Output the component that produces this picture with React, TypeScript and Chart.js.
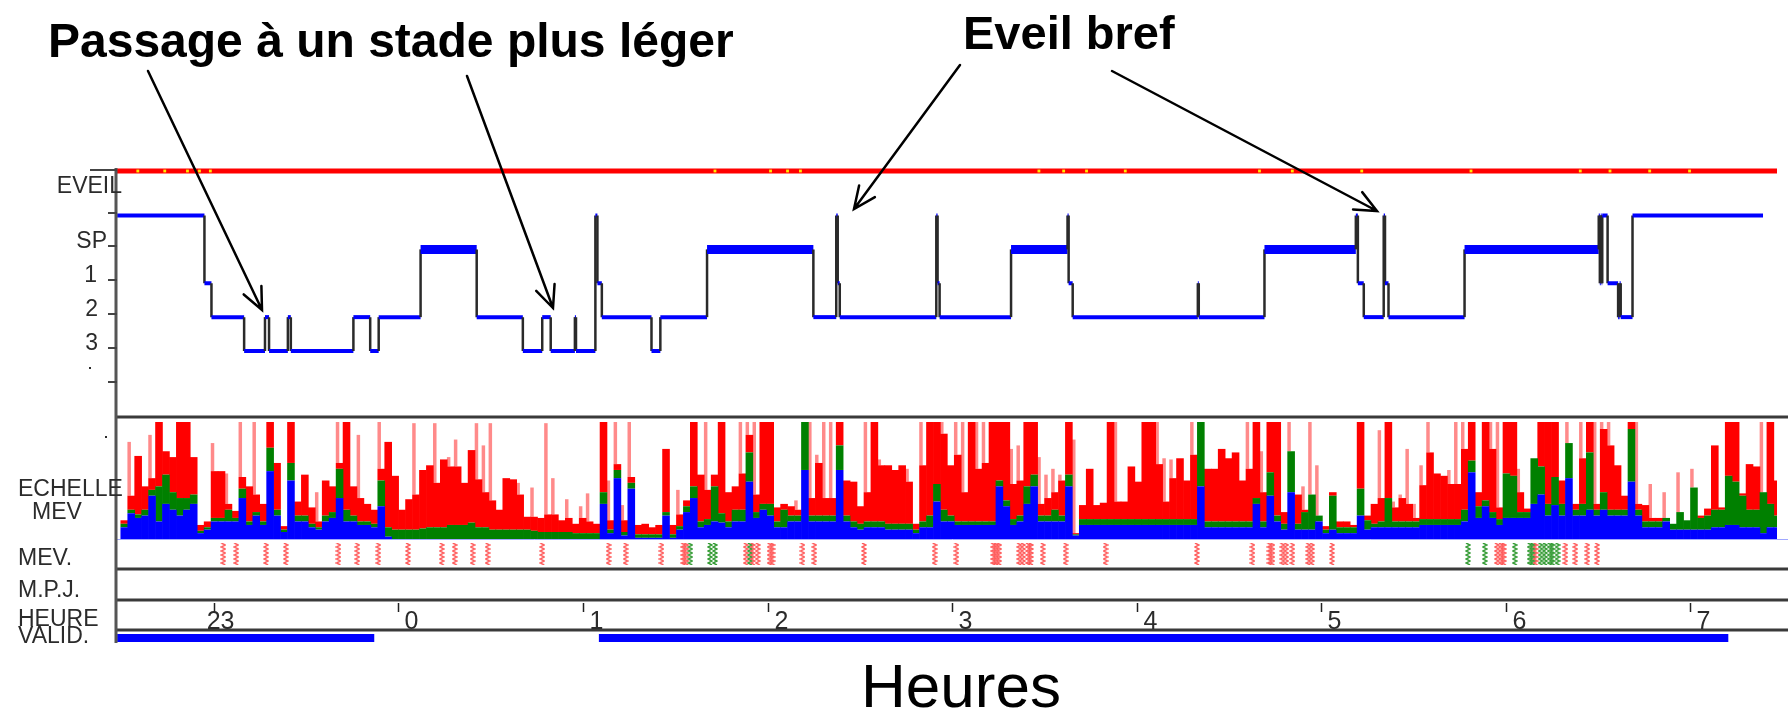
import React, { useEffect, useRef } from 'react';
import { Chart, registerables } from 'chart.js';

Chart.register(...registerables);

const W = 1788;
const H = 715;
const AREA = { left: 117, top: 150, right: 1788, bottom: 650 };
const HOUR23_PX = 214.5;
const PX_PER_HOUR = 185.8;
const X_MIN = 23 + (AREA.left - HOUR23_PX) / PX_PER_HOUR;
const X_MAX = 23 + (AREA.right - HOUR23_PX) / PX_PER_HOUR;

// ---------- Hypnogramme (heures d'horloge, >24 = après minuit) ----------
const hypDebuts = [
  22.476, 22.949, 22.987, 23.164, 23.277, 23.299, 23.401, 23.417, 23.756, 23.847,
  23.893, 24.12, 24.424, 24.674, 24.779, 24.825, 24.956, 24.962, 25.067, 25.078,
  25.102, 25.371, 25.419, 25.672, 26.248, 26.372, 26.38, 26.391, 26.914, 26.921,
  26.932, 27.319, 27.625, 27.631, 27.653, 28.331, 28.336, 28.692, 29.187, 29.198,
  29.23, 29.338, 29.345, 29.364, 29.776, 30.503, 30.509, 30.514, 30.519, 30.522,
  30.551, 30.608, 30.616, 30.622, 30.686,
];
const hypStades = [
  'W', '1', '2', '3', '2', '3', '2', '3', '2', '3',
  '2', 'SP', '2', '3', '2', '3', '2', '3', 'W', '1',
  '2', '3', '2', 'SP', '2', 'W', '1', '2', 'W', '1',
  '2', 'SP', 'W', '1', '2', '1', '2', 'SP', 'W', '1',
  '2', 'W', '1', '2', 'SP', 'W', '1', 'W', '1', 'W',
  '1', '2', '1', '2', 'W',
];
const hypFin = 31.393;
const hypNiveau: Record<string, number> = { W: 5, SP: 4, '1': 3, '2': 2, '3': 1 };

// ---------- Echelle MEV (barres empilées) ----------
const mevBleu = [
  10, 22, 18, 20, 37, 15, 30, 25, 20, 25,
  30, 5, 8, 15, 15, 15, 15, 35, 12, 20,
  12, 58, 20, 6, 50, 15, 15, 10, 8, 15,
  18, 35, 15, 15, 12, 12, 10, 28, 2, 0,
  0, 0, 0, 0, 0, 0, 0, 0, 0, 0,
  0, 0, 0, 0, 0, 0, 0, 0, 0, 0,
  0, 0, 0, 0, 0, 0, 0, 0, 0, 30,
  5, 52, 3, 43, 1, 1, 1, 1, 20, 1,
  8, 23, 35, 10, 12, 15, 14, 10, 15, 15,
  49, 18, 25, 20, 10, 10, 15, 15, 59, 15,
  15, 15, 15, 59, 15, 10, 8, 10, 10, 10,
  8, 8, 8, 8, 5, 10, 10, 32, 15, 15,
  12, 12, 12, 12, 12, 12, 45, 28, 12, 15,
  30, 45, 15, 15, 15, 15, 45, 3, 12, 12,
  12, 12, 12, 12, 12, 12, 12, 12, 12, 12,
  12, 12, 12, 12, 12, 45, 10, 10, 10, 10,
  10, 10, 10, 30, 10, 37, 15, 8, 40, 8,
  8, 8, 15, 5, 8, 5, 5, 5, 20, 8,
  10, 10, 10, 10, 10, 10, 10, 12, 12, 12,
  12, 12, 12, 15, 57, 18, 28, 18, 12, 18,
  18, 18, 18, 30, 38, 20, 29, 20, 52, 20,
  20, 25, 20, 25, 20, 20, 20, 49, 20, 10,
  10, 10, 15, 8, 8, 8, 8, 8, 8, 10,
  10, 12, 12, 10, 10, 10, 5, 10, 10,
];
const mevVert = [
  3, 3, 3, 5, 5, 30, 25, 15, 15, 10,
  8, 2, 2, 3, 3, 10, 3, 8, 3, 3,
  3, 20, 5, 2, 15, 5, 5, 3, 2, 5,
  5, 25, 10, 5, 3, 3, 3, 22, 8, 8,
  8, 8, 8, 9, 10, 10, 10, 12, 12, 12,
  14, 10, 10, 8, 8, 8, 8, 8, 8, 7,
  6, 6, 6, 6, 6, 5, 5, 5, 5, 10,
  3, 7, 3, 5, 3, 3, 3, 3, 3, 3,
  3, 5, 10, 5, 5, 30, 8, 5, 10, 10,
  25, 5, 5, 10, 5, 15, 5, 5, 41, 5,
  5, 5, 5, 21, 5, 5, 5, 5, 5, 5,
  5, 5, 5, 5, 3, 5, 10, 15, 10, 5,
  3, 3, 3, 3, 3, 3, 5, 5, 5, 5,
  15, 10, 5, 5, 10, 5, 10, 1, 5, 5,
  5, 5, 5, 5, 5, 5, 5, 5, 5, 5,
  5, 5, 5, 5, 5, 55, 5, 5, 5, 5,
  5, 5, 5, 5, 5, 20, 5, 5, 35, 5,
  15, 30, 5, 3, 29, 5, 5, 5, 23, 8,
  3, 5, 25, 5, 5, 5, 5, 5, 5, 5,
  5, 5, 5, 10, 10, 10, 5, 5, 5, 38,
  36, 5, 5, 39, 24, 10, 24, 10, 30, 5,
  10, 49, 5, 15, 5, 5, 5, 45, 5, 5,
  5, 5, 3, 5, 15, 8, 36, 10, 12, 15,
  15, 42, 37, 27, 15, 15, 35, 20, 10,
];
const mevRouge = [
  3, 12, 50, 20, 10, 55, 20, 30, 65, 65,
  32, 5, 5, 40, 40, 5, 6, 10, 30, 15,
  15, 22, 40, 3, 35, 12, 35, 14, 5, 30,
  22, 5, 75, 25, 20, 15, 12, 10, 73, 46,
  17, 26, 30, 50, 53, 38, 58, 50, 50, 36,
  62, 41, 30, 25, 17, 44, 43, 30, 11, 12,
  12, 15, 15, 10, 12, 8, 13, 10, 8, 60,
  8, 5, 10, 5, 8, 9, 6, 8, 54, 8,
  10, 5, 55, 40, 25, 10, 78, 25, 20, 31,
  15, 15, 70, 70, 12, 5, 8, 5, 0, 15,
  45, 15, 15, 20, 30, 34, 15, 25, 85, 48,
  50, 46, 50, 36, 5, 48, 80, 53, 65, 43,
  57, 25, 85, 45, 50, 85, 50, 67, 30, 30,
  55, 45, 10, 15, 15, 30, 45, 1, 12, 43,
  12, 14, 83, 15, 15, 45, 32, 83, 83, 47,
  15, 35, 52, 33, 55, 0, 45, 45, 62, 54,
  59, 35, 45, 65, 25, 43, 80, 10, 0, 25,
  2, 0, 0, 3, 3, 5, 5, 2, 57, 4,
  17, 20, 65, 12, 20, 15, 3, 29, 57, 39,
  37, 30, 30, 52, 33, 12, 67, 54, 10, 44,
  46, 17, 3, 0, 38, 70, 47, 20, 0, 5,
  39, 26, 5, 54, 55, 38, 12, 6, 5, 14,
  3, 3, 0, 0, 0, 0, 0, 2, 6, 55,
  2, 46, 51, 2, 39, 37, 0, 70, 30,
];
const mevPale = [
  0, 46, 0, 0, 37, 0, 0, 0, 0, 0,
  0, 0, 0, 24, 0, 26, 0, 47, 0, 62,
  0, 0, 0, 0, 0, 0, 0, 0, 25, 0,
  0, 35, 0, 0, 54, 0, 0, 40, 0, 0,
  0, 0, 61, 0, 0, 51, 0, 8, 23, 0,
  0, 48, 40, 66, 0, 0, 0, 10, 0, 25,
  0, 78, 31, 0, 16, 0, 10, 24, 0, 0,
  34, 36, 13, 47, 0, 0, 0, 0, 0, 0,
  21, 0, 0, 0, 58, 0, 0, 0, 0, 44,
  11, 62, 0, 0, 0, 0, 0, 8, 0, 65,
  7, 65, 65, 0, 0, 0, 0, 60, 0, 5,
  0, 0, 0, 11, 0, 37, 0, 0, 10, 0,
  28, 60, 0, 40, 35, 0, 0, 0, 30, 30,
  0, 0, 40, 20, 20, 5, 0, 80, 0, 0,
  0, 0, 0, 68, 0, 0, 0, 0, 0, 36,
  37, 16, 0, 0, 28, 0, 0, 0, 0, 0,
  0, 0, 40, 0, 35, 0, 0, 0, 25, 0,
  20, 62, 43, 0, 0, 0, 0, 0, 0, 0,
  0, 58, 0, 5, 3, 47, 12, 17, 26, 0,
  0, 12, 53, 23, 0, 0, 0, 23, 73, 0,
  0, 20, 0, 0, 0, 0, 0, 0, 18, 0,
  31, 0, 70, 6, 20, 0, 0, 0, 70, 0,
  29, 0, 22, 0, 34, 0, 16, 0, 0, 0,
  0, 0, 0, 0, 0, 0, 60, 0, 0,
];
const mevLabels = mevBleu.map((_, i) => String(i));

// ---------- Lignes MEV. (marques), éveil, validation ----------
const mevMarquesRouges = [
  23.051, 23.121, 23.283, 23.39, 23.675, 23.777, 23.891, 24.052, 24.235, 24.305,
  24.402, 24.483, 24.779, 25.139, 25.231, 25.425, 25.543, 25.559, 25.882, 25.92,
  25.947, 26.011, 26.027, 26.189, 26.253, 26.522, 26.905, 27.023, 27.222, 27.238,
  27.255, 27.363, 27.384, 27.411, 27.427, 27.491, 27.615, 27.831, 28.326, 28.627,
  28.719, 28.735, 28.789, 28.81, 28.843, 28.929, 28.95, 29.058, 29.951, 29.973,
  29.989, 30.161, 30.322, 30.376, 30.441, 30.494,
];
const mevMarquesVertes = [
  25.581, 25.688, 25.715, 25.904, 29.795, 29.886, 30.048, 30.129, 30.145, 30.188,
  30.212, 30.237, 30.253, 30.28,
];
const eveilMarques = [
  22.588, 22.734, 22.857, 22.922, 22.981, 25.715, 26.016, 26.108, 26.178, 27.47,
  27.604, 27.728, 27.938, 28.665, 28.843, 29.219, 29.811, 30.403, 30.564, 30.779, 30.995,
];
const validDebuts = [22.476, 25.086];
const validFins = [23.869, 31.205];

const heureValeurs = [23, 24, 25, 26, 27, 28, 29, 30, 31];
const heureLabels = ['23', '0', '1', '2', '3', '4', '5', '6', '7'];

// pixel rows for the strip tracks
const ROW = { eveil: 171, marques: 554, valid: 638 };
const FONT = '"Liberation Sans", Arial, sans-serif';
const SLOT = (AREA.right - AREA.left) / mevBleu.length;

function yRange(v1: number, p1: number, v2: number, p2: number) {
  const k = (v2 - v1) / (p2 - p1);
  return { min: v1 + (AREA.bottom - p1) * k, max: v1 + (AREA.top - p1) * k };
}

function makeZigzag(color: string) {
  const c = document.createElement('canvas');
  c.width = 6;
  c.height = 22;
  const g = c.getContext('2d')!;
  g.strokeStyle = color;
  g.lineWidth = 1.4;
  g.beginPath();
  for (let i = 0; i <= 11; i++) {
    const xx = i % 2 ? 5 : 1;
    const yy = i * 2;
    if (i === 0) g.moveTo(xx, yy);
    else g.lineTo(xx, yy);
  }
  g.stroke();
  return c;
}

function arrow(ctx: CanvasRenderingContext2D, x1: number, y1: number, x2: number, y2: number) {
  const a = Math.atan2(y2 - y1, x2 - x1);
  const L = 24;
  const s = 0.42;
  ctx.beginPath();
  ctx.moveTo(x1, y1);
  ctx.lineTo(x2, y2);
  ctx.moveTo(x2 - L * Math.cos(a - s), y2 - L * Math.sin(a - s));
  ctx.lineTo(x2, y2);
  ctx.lineTo(x2 - L * Math.cos(a + s), y2 - L * Math.sin(a + s));
  ctx.stroke();
}

const decor = {
  id: 'decor',
  afterDatasetsDraw(chart: any) {
    const ctx: CanvasRenderingContext2D = chart.ctx;
    const xs = chart.scales.x;
    const yh = chart.scales.yHyp;
    ctx.save();
    // panel separators
    ctx.strokeStyle = '#3a3a3a';
    ctx.lineWidth = 3;
    for (const y of [417, 569, 600, 630]) {
      ctx.beginPath();
      ctx.moveTo(AREA.left, y);
      ctx.lineTo(W, y);
      ctx.stroke();
    }
    ctx.strokeStyle = '#a0a8ff';
    ctx.lineWidth = 1;
    ctx.beginPath();
    ctx.moveTo(AREA.left, 539.5);
    ctx.lineTo(W, 539.5);
    ctx.stroke();
    // left axis
    ctx.strokeStyle = '#555';
    ctx.lineWidth = 3;
    ctx.beginPath();
    ctx.moveTo(116, 168);
    ctx.lineTo(116, 643);
    ctx.stroke();
    // hypnogram ticks
    ctx.strokeStyle = '#444';
    ctx.lineWidth = 2;
    ctx.beginPath();
    ctx.moveTo(90, 170);
    ctx.lineTo(117, 170);
    for (const lv of [5, 4, 3, 2, 1, 0]) {
      const y = Math.round(yh.getPixelForValue(lv)) - 3;
      ctx.moveTo(108, y);
      ctx.lineTo(117, y);
    }
    ctx.stroke();
    // left labels
    ctx.fillStyle = '#2b2b2b';
    ctx.font = `23px ${FONT}`;
    ctx.textBaseline = 'alphabetic';
    ctx.textAlign = 'right';
    ctx.fillText('EVEIL', 122, 193);
    const hypLab: [string, number, number][] = [['SP', 4, 107], ['1', 3, 97], ['2', 2, 98], ['3', 1, 98]];
    for (const [t, lv, r] of hypLab) ctx.fillText(t, r, yh.getPixelForValue(lv) - 1);
    ctx.fillRect(89, 367, 2, 2);
    ctx.fillRect(105, 436, 2, 2);
    ctx.textAlign = 'left';
    ctx.fillText('ECHELLE', 18, 496);
    ctx.fillText('MEV', 32, 519);
    ctx.fillText('MEV.', 18, 565);
    ctx.fillText('M.P.J.', 18, 597);
    ctx.fillText('HEURE', 18, 626);
    ctx.fillText('VALID.', 18, 643);
    // hour ticks
    ctx.font = `25px ${FONT}`;
    ctx.textAlign = 'right';
    ctx.strokeStyle = '#222';
    ctx.lineWidth = 1.5;
    heureValeurs.forEach((h, i) => {
      const px = Math.round(xs.getPixelForValue(h)) + 0.5;
      ctx.beginPath();
      ctx.moveTo(px, 603);
      ctx.lineTo(px, 612);
      ctx.stroke();
      ctx.fillText(heureLabels[i], px + 20, 629);
    });
    // annotations
    ctx.fillStyle = '#000';
    ctx.textAlign = 'left';
    ctx.font = `bold 48px ${FONT}`;
    ctx.fillText('Passage à un stade plus léger', 48, 57);
    ctx.font = `bold 47px ${FONT}`;
    ctx.fillText('Eveil bref', 963, 49);
    ctx.font = `62px ${FONT}`;
    ctx.textAlign = 'center';
    ctx.fillText('Heures', 961, 707);
    ctx.strokeStyle = '#000';
    ctx.lineWidth = 2.5;
    ctx.lineCap = 'round';
    arrow(ctx, 148, 71, 262, 310);
    arrow(ctx, 467, 76, 553, 308);
    arrow(ctx, 960, 65, 854, 209);
    arrow(ctx, 1112, 71, 1377, 211);
    ctx.restore();
  },
};

export default function App() {
  const ref = useRef<HTMLCanvasElement>(null);

  useEffect(() => {
    const canvas = ref.current!;
    const hypPoints: { x: number; y: number }[] = [];
    hypDebuts.forEach((t, i) => {
      const fin = i + 1 < hypDebuts.length ? hypDebuts[i + 1] : hypFin;
      const lv = hypNiveau[hypStades[i]];
      hypPoints.push({ x: t, y: lv }, { x: fin, y: lv });
    });
    const validPoints: { x: number; y: number | null }[] = [];
    validDebuts.forEach((d, i) => {
      if (i > 0) validPoints.push({ x: (validFins[i - 1] + d) / 2, y: null });
      validPoints.push({ x: d, y: ROW.valid }, { x: validFins[i], y: ROW.valid });
    });
    const zzRouge = makeZigzag('rgba(255,50,50,0.8)');
    const zzVert = makeZigzag('rgba(0,130,0,0.8)');
    const hypR = yRange(5, 215.5, 1, 351);
    const mevR = yRange(0, 539, 100, 422);
    const isVert = (c: any) => c.p0.parsed.x === c.p1.parsed.x;
    const barBase = {
      xAxisID: 'xBar', yAxisID: 'yMev', stack: 'mev', barThickness: SLOT + 0.6,
      borderWidth: 0, inflateAmount: 0, order: 5,
    };

    const chart = new Chart(canvas, {
      type: 'bar',
      data: {
        labels: mevLabels,
        datasets: [
          {
            type: 'line', label: 'Hypnogramme', xAxisID: 'x', yAxisID: 'yHyp',
            data: hypPoints as any, pointRadius: 0, borderColor: '#0000ff', borderWidth: 4,
            tension: 0, fill: false, order: 0,
            segment: {
              borderColor: (c: any) => (isVert(c) ? '#2a2a2a' : '#0000ff'),
              borderWidth: (c: any) => (isVert(c) ? 2.5 : c.p0.parsed.y === hypNiveau.SP ? 9 : 4),
            },
          } as any,
          {
            type: 'line', label: 'Eveil', xAxisID: 'x', yAxisID: 'yRow',
            data: [{ x: X_MIN, y: ROW.eveil }, { x: X_MAX, y: ROW.eveil }] as any,
            pointRadius: 0, borderColor: '#ff0000', borderWidth: 5, order: 2,
          } as any,
          {
            type: 'scatter', label: 'Eveil marques', xAxisID: 'x', yAxisID: 'yRow',
            data: eveilMarques.map((x) => ({ x, y: ROW.eveil })) as any,
            pointStyle: 'rect', pointRadius: 2, backgroundColor: '#ffee00', borderWidth: 0, order: 1,
          } as any,
          {
            type: 'scatter', label: 'MEV rouges', xAxisID: 'x', yAxisID: 'yRow',
            data: mevMarquesRouges.map((x) => ({ x, y: ROW.marques })) as any,
            pointStyle: zzRouge as any, pointRadius: 10, order: 1,
          } as any,
          {
            type: 'scatter', label: 'MEV verts', xAxisID: 'x', yAxisID: 'yRow',
            data: mevMarquesVertes.map((x) => ({ x, y: ROW.marques })) as any,
            pointStyle: zzVert as any, pointRadius: 10, order: 1,
          } as any,
          {
            type: 'line', label: 'Valid', xAxisID: 'x', yAxisID: 'yRow',
            data: validPoints as any, pointRadius: 0, borderColor: '#0000ff', borderWidth: 8,
            borderCapStyle: 'butt', spanGaps: false, order: 2,
          } as any,
          { ...barBase, label: 'Bleu', data: mevBleu, backgroundColor: '#0000ff' } as any,
          { ...barBase, label: 'Vert', data: mevVert, backgroundColor: '#008000' } as any,
          { ...barBase, label: 'Rouge', data: mevRouge, backgroundColor: '#ff0000' } as any,
          { ...barBase, label: 'Pale', data: mevPale, backgroundColor: '#ff8a8a', barThickness: SLOT * 0.5 } as any,
        ],
      },
      options: {
        responsive: false,
        animation: false,
        devicePixelRatio: 1,
        events: [],
        layout: {
          padding: { left: AREA.left, top: AREA.top, right: W - AREA.right, bottom: H - AREA.bottom },
        },
        plugins: { legend: { display: false }, tooltip: { enabled: false }, title: { display: false } },
        scales: {
          x: { type: 'linear', min: X_MIN, max: X_MAX, offset: false, bounds: 'data', display: false },
          xBar: { type: 'category', display: false, stacked: true, offset: true },
          y: { display: false },
          yHyp: { type: 'linear', min: hypR.min, max: hypR.max, offset: false, display: false },
          yMev: { type: 'linear', min: mevR.min, max: mevR.max, offset: false, display: false, stacked: true },
          yRow: { type: 'linear', min: AREA.top, max: AREA.bottom, reverse: true, offset: false, display: false },
        } as any,
      },
      plugins: [decor as any],
    });
    return () => chart.destroy();
  }, []);

  return (
    <div style={{ position: 'absolute', left: 0, top: 0, width: W, height: H, background: '#fff' }}>
      <canvas ref={ref} width={W} height={H} style={{ display: 'block', width: W, height: H }} />
    </div>
  );
}
